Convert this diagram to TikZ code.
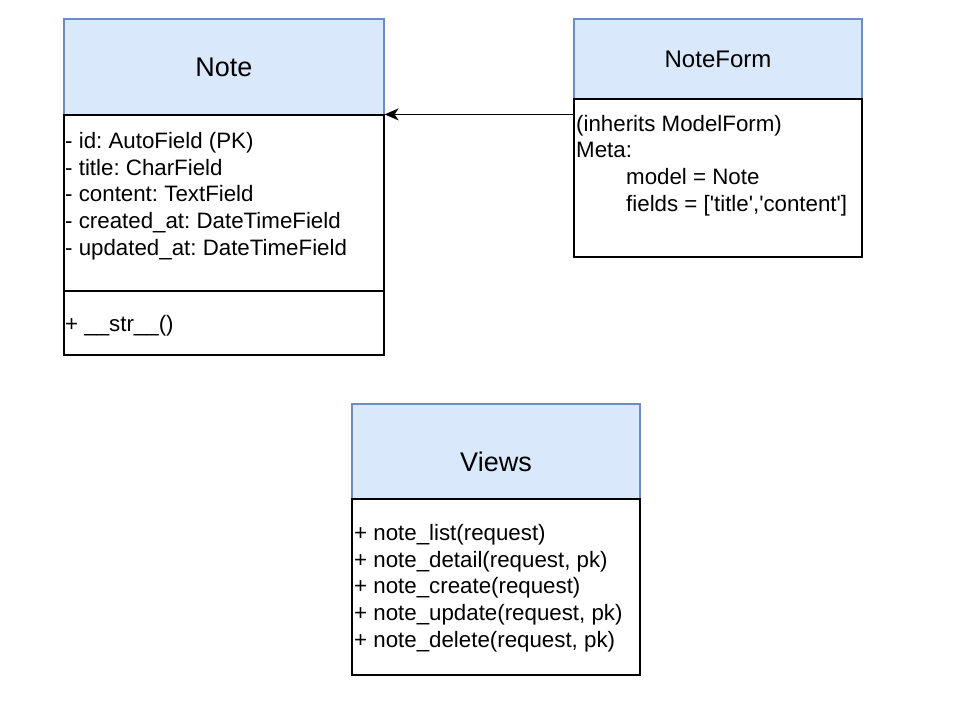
\documentclass[tikz,border=0pt]{standalone}
\usepackage{fontspec}
\setmainfont{Liberation Sans}
\usepackage{xcolor}
\usepackage{tikz}
\usetikzlibrary{arrows.meta,positioning,fit}

\definecolor{headfill}{HTML}{DAE8FC}
\definecolor{headdraw}{HTML}{6C8EBF}
\frenchspacing

\begin{document}
\begin{tikzpicture}[x=1pt,y=-1pt,arrow/.style = {line width=1.3pt,-{Stealth[length=14pt,width=12pt,inset=4pt]}}]
				\tikzset{head/.style={draw=headdraw,fill=headfill,line width=1.2pt,inner sep=0pt}}
				\tikzset{body/.style={draw=black,line width=1.2pt,inner sep=0pt}}
				\tikzset{title/.style={inner sep=0pt,font=\fontsize{27}{32}\selectfont}}
				\tikzset{attr/.style={inner sep=0pt,align=left,anchor=base west,font=\fontsize{22.3}{26.6}\selectfont\frenchspacing}}

				\useasboundingbox (0,0) rectangle (978,716);

				% Note
				\node[fit={(64,19) (384,115)}, head] (note) {};
				\node[title] (notetitle) at (note.center) {Note};
				\node[fit={(64,115) (384,291)}, body] (noteattr) {};
				\node[fit={(64,291) (384,355)}, body] (notemeth) {};
				\node[attr] (noteattrtxt) at (65,255) {- id: AutoField (PK)\\- title: CharField\\- content: TextField\\- created\_at: DateTimeField\\- updated\_at: DateTimeField};
				\node[attr] (notemethtxt) at (65,331) {+ \_\_str\_\_()};

				% NoteForm
				\node[fit={(574,19) (862,99)}, head] (form) {};
				\node[title, font=\fontsize{24}{28}\selectfont] (formtitle) at (form.center) {NoteForm};
				\node[fit={(574,99) (862,257)}, body] (formbody) {};
				\node[attr] (formtxt) at (576,211) {(inherits ModelForm)\\Meta:\\\hspace*{50pt}model = Note\\\hspace*{50pt}fields = [\textquotesingle title\textquotesingle,\textquotesingle content\textquotesingle]};

				% Views
				\node[fit={(352,404) (640,499)}, head] (views) {};
				\node[title, yshift=-10pt] (viewstitle) at (views.center) {Views};
				\node[fit={(352,499) (640,675)}, body] (viewsbody) {};
				\node[attr] (viewstxt) at (354,647) {+ note\_list(request)\\+ note\_detail(request, pk)\\+ note\_create(request)\\+ note\_update(request, pk)\\+ note\_delete(request, pk)};

				\draw [arrow] (formbody.west |- noteattr.north east) -- (noteattr.north east);

			\end{tikzpicture}
\end{document}
